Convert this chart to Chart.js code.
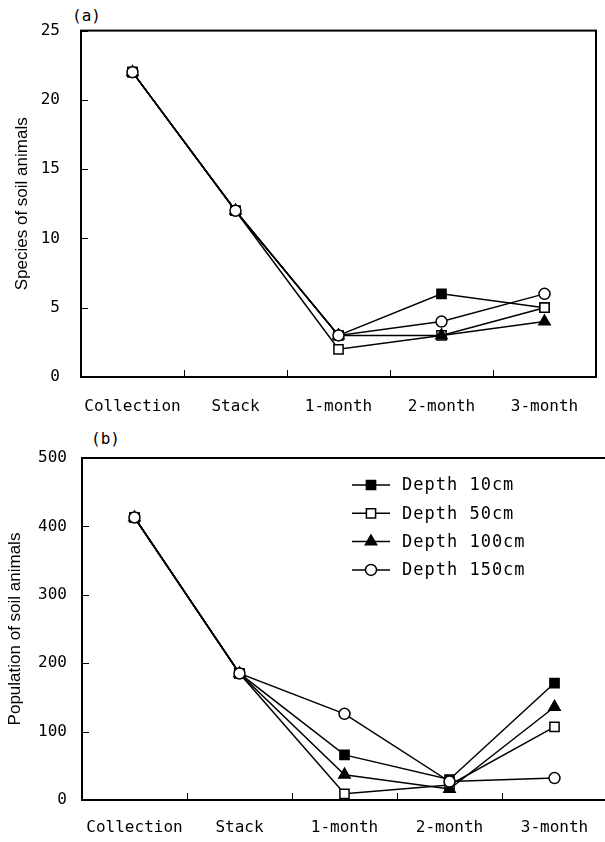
<!DOCTYPE html>
<html>
<head>
<meta charset="utf-8">
<script src="https://cdn.jsdelivr.net/npm/chart.js@4/dist/chart.umd.min.js"></script>
<style>
    body { margin: 0; background: #fff; width: 605px; height: 842px; position: relative; overflow: hidden; }
    canvas { position: absolute; left: 0; }
    .etiqueta { position: absolute; font: 16px 'DejaVu Sans Mono', monospace; color: #000; }
</style>
</head>
<body>
<div class="etiqueta" style="left:72px; top:6px;">(a)</div>
<canvas id="graficaEspecies" width="605" height="421" style="top:0"></canvas>
<div class="etiqueta" style="left:91px; top:429px;">(b)</div>
<canvas id="graficaPoblacion" width="615" height="421" style="top:421px"></canvas>
<script>
// --- DATOS ---
const categorias = ['Collection', 'Stack', '1-month', '2-month', '3-month'];
const profundidades = ['Depth 10cm', 'Depth 50cm', 'Depth 100cm', 'Depth 150cm'];

const especies10  = [22, 12, 3, 6, 5];
const especies50  = [22, 12, 2, 3, 5];
const especies100 = [22, 12, 3, 3, 4];
const especies150 = [22, 12, 3, 4, 6];

const poblacion10  = [413, 185, 66, 30, 171];
const poblacion50  = [413, 185, 9, 22, 107];
const poblacion100 = [413, 185, 37, 16, 136];
const poblacion150 = [413, 185, 126, 27, 32];

const ticksEspecies  = [0, 5, 10, 15, 20, 25];
const ticksPoblacion = [0, 100, 200, 300, 400, 500];

// estilos de marcador por profundidad
const marcadores = [
    { pointStyle: 'rect', pointRadius: 6.5, pointBackgroundColor: '#000', order: 3 },
    { pointStyle: 'rect', pointRadius: 6.5, pointBackgroundColor: '#fff', order: 2 },
    { pointStyle: 'triangle', pointRadius: 6.5, pointBackgroundColor: '#000', order: 1 },
    { pointStyle: 'circle', pointRadius: 5.5, pointBackgroundColor: '#fff', order: 0 }
];

const fuenteMono = 'DejaVu Sans Mono';

function armarDatasets(series) {
    return series.map((datos, i) => ({
        label: profundidades[i],
        data: datos,
        borderColor: '#000',
        borderWidth: 1.5,
        pointBorderColor: '#000',
        pointBorderWidth: 1.5,
        pointHoverRadius: marcadores[i].pointRadius,
        tension: 0,
        ...marcadores[i]
    }));
}

// marco, marcas hacia adentro
const marcoInterno = {
    id: 'marcoInterno',
    beforeDatasetsDraw(chart) {
        const { ctx, chartArea: a, scales: { x, y } } = chart;
        ctx.save();
        ctx.strokeStyle = '#000';
        ctx.lineWidth = 1;
        ctx.beginPath();
        y.ticks.forEach((t, i) => {
            const py = Math.round(y.getPixelForTick(i)) + 0.5;
            ctx.moveTo(a.left, py);
            ctx.lineTo(a.left + 7, py);
        });
        for (let i = 1; i < x.ticks.length; i++) {
            const px = Math.round((x.getPixelForTick(i - 1) + x.getPixelForTick(i)) / 2) + 0.5;
            ctx.moveTo(px, a.bottom);
            ctx.lineTo(px, a.bottom - 7);
        }
        ctx.stroke();
        ctx.lineWidth = 2;
        ctx.strokeRect(a.left, a.top, a.right - a.left, a.bottom - a.top);
        ctx.restore();
    }
};

// leyenda dentro del area
const leyendaInterna = {
    id: 'leyendaInterna',
    afterDraw(chart) {
        const { ctx, chartArea: a } = chart;
        const x0 = a.left + 270;
        ctx.save();
        chart.data.datasets.forEach((ds, i) => {
            const py = a.top + 27 + i * 28.3;
            ctx.strokeStyle = '#000';
            ctx.lineWidth = 1.5;
            ctx.beginPath();
            ctx.moveTo(x0, py);
            ctx.lineTo(x0 + 38, py);
            ctx.stroke();
            ctx.fillStyle = ds.pointBackgroundColor;
            Chart.helpers.drawPoint(ctx, {
                pointStyle: ds.pointStyle,
                radius: ds.pointRadius,
                borderWidth: ds.pointBorderWidth,
                rotation: 0
            }, x0 + 19, py);
            ctx.fillStyle = '#000';
            ctx.font = '17px ' + fuenteMono;
            ctx.letterSpacing = '1px';
            ctx.textBaseline = 'middle';
            ctx.textAlign = 'left';
            ctx.fillText(ds.label, x0 + 50, py + 1);
        });
        ctx.restore();
    }
};

function crearGrafica(id, series, ticks, titulo, cfg) {
    return new Chart(document.getElementById(id), {
        type: 'line',
        data: { labels: categorias, datasets: armarDatasets(series) },
        options: {
            responsive: false,
            animation: false,
            layout: { padding: { top: cfg.top, right: cfg.right, bottom: cfg.bottom, left: 0 } },
            plugins: { legend: { display: false }, tooltip: { enabled: false } },
            scales: {
                x: {
                    offset: true,
                    grid: { display: false, drawTicks: false },
                    border: { color: '#000', width: 2 },
                    ticks: { color: '#000', padding: cfg.xPad, font: { family: fuenteMono, size: 16 } },
                    afterFit: s => { s.height = 40; }
                },
                y: {
                    min: ticks[0],
                    max: ticks[ticks.length - 1],
                    afterBuildTicks: s => { s.ticks = ticks.map(v => ({ value: v })); },
                    grid: { display: false, drawTicks: false },
                    border: { color: '#000', width: 2 },
                    ticks: { color: '#000', padding: cfg.yPad, font: { family: fuenteMono, size: 16 } },
                    title: {
                        display: true,
                        text: titulo,
                        color: '#000',
                        font: { family: 'Liberation Sans', size: 17 },
                        padding: { top: cfg.tituloPad, bottom: 0 }
                    },
                    afterFit: s => { s.width = cfg.ancho; }
                }
            }
        },
        plugins: cfg.leyenda ? [marcoInterno, leyendaInterna] : [marcoInterno]
    });
}

crearGrafica('graficaEspecies',
    [especies10, especies50, especies100, especies150],
    ticksEspecies, 'Species of soil animals',
    { top: 30, right: 9, bottom: 4, xPad: 20, yPad: 21, ancho: 81, tituloPad: 12, leyenda: false });

crearGrafica('graficaPoblacion',
    [poblacion10, poblacion50, poblacion100, poblacion150],
    ticksPoblacion, 'Population of soil animals',
    { top: 37, right: 0, bottom: 2, xPad: 18, yPad: 15, ancho: 82, tituloPad: 5, leyenda: true });
</script>
</body>
</html>
